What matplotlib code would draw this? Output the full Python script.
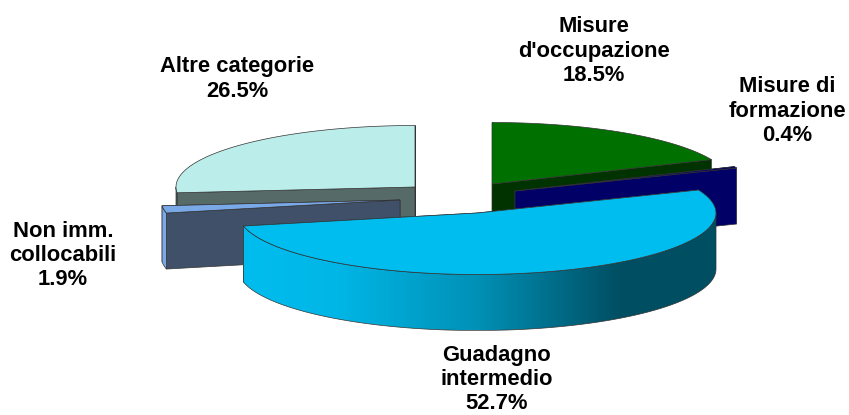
import numpy as np
import matplotlib
matplotlib.use("Agg")
import matplotlib.pyplot as plt
from matplotlib.colors import LinearSegmentedColormap
from matplotlib.patches import Polygon

# valori della torta (senso orario dalle ore 12)
categorie = ["Misure\nd'occupazione", "Misure di\nformazione", "Guadagno\nintermedio",
             "Non imm.\ncollocabili", "Altre categorie"]
valori = [18.5, 0.4, 52.7, 1.9, 26.5]

colori_top = ["#007000", "#000066", "#00BDEF", "#7AA9E8", "#BBEDEB"]
colori_muro = ["#003300", "#000066", "#00BDEF", "#3F5068", "#566B67"]
colori_rim = ["#003300", "#000066", None, "#7AA9E8", "#566B67"]

# vertice di ogni fetta esplosa, in pixel
centri = [(492, 184), (515, 191), (477, 213), (400, 200), (415, 187)]
pos_label = [(594, 51), (787, 111), (497, 379.5), (63, 255.5), (237, 79)]

RX, RY, H = 239, 61.5, 56

plt.rcParams["font.family"] = ["Liberation Sans", "DejaVu Sans"]

fig = plt.figure(figsize=(8.49, 4.15), dpi=100)
ax = fig.add_axes([0, 0, 1, 1])


def rim(c, a, b, dy=0):
    t = np.radians(np.linspace(a, b, 120))
    return np.column_stack([c[0] + RX * np.sin(t), c[1] + dy - RY * np.cos(t)])


def wall(c, ang, col, z):
    p = rim(c, ang, ang, 0)[0]
    pts = [c, p, (p[0], p[1] + H), (c[0], c[1] + H)]
    ax.add_patch(Polygon(pts, closed=True, fc=col, ec="#333333", lw=0.5, zorder=z))


# angoli cumulati
fine = np.cumsum(valori) * 3.6
inizio = np.concatenate([[0], fine[:-1]])

# ordine di disegno: dietro -> davanti
z = 1
for i in [4, 0, 3, 1, 2]:
    c = centri[i]
    a, b = inizio[i], fine[i]

    # pareti radiali, la piu' bassa per ultima
    angoli = sorted([a, b], key=lambda g: -np.cos(np.radians(g)))
    for g in angoli:
        wall(c, g, colori_muro[i], z)
        z += 1

    # bordo esterno, visibile solo tra 90 e 270 gradi
    a2, b2 = max(a, 90), min(b, 270)
    if b2 > a2:
        sup = rim(c, a2, b2)
        inf = rim(c, b2, a2, H)
        pts = np.vstack([sup, inf])
        if colori_rim[i] is None:
            cmap = LinearSegmentedColormap.from_list(
                "g", [(0, "#00BDEF"), (0.2, "#00B6E6"), (0.5, "#0090B5"),
                      (0.8, "#004E62"), (1, "#004E62")])
            xs = np.linspace(0, 1, 256).reshape(1, -1)
            x0, x1 = pts[:, 0].min(), pts[:, 0].max()
            y0, y1 = pts[:, 1].min(), pts[:, 1].max()
            im = ax.imshow(xs, cmap=cmap, extent=(x0, x1, y1, y0), aspect="auto", zorder=z)
            contorno = Polygon(pts, closed=True, fc="none", ec="#333333", lw=0.5, zorder=z + 0.5)
            ax.add_patch(contorno)
            im.set_clip_path(contorno)
        else:
            ax.add_patch(Polygon(pts, closed=True, fc=colori_rim[i], ec="#333333", lw=0.5, zorder=z))
        z += 1

    # faccia superiore
    top = np.vstack([[c], rim(c, a, b)])
    ax.add_patch(Polygon(top, closed=True, fc=colori_top[i], ec="#333333", lw=0.5, zorder=z))
    z += 1

for nome, v, (x, y) in zip(categorie, valori, pos_label):
    ax.text(x, y, nome + "\n" + f"{v}%", ha="center", va="center", fontsize=15.8,
            fontweight="bold", color="black", linespacing=1.2, zorder=z + 1)

ax.set_xlim(0, 849)
ax.set_ylim(415, 0)
ax.axis("off")

fig.savefig("out.png", dpi=100)
